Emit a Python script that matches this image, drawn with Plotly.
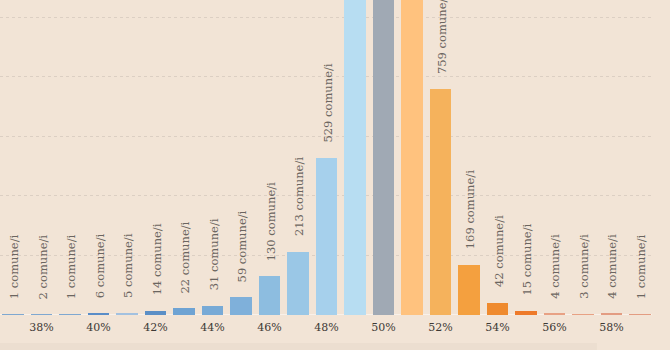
import plotly.graph_objects as go

# Percent buckets (x) and number of comuni per bucket
pct = [37, 38, 39, 40, 41, 42, 43, 44, 45, 46, 47, 48, 49, 50, 51, 52, 53, 54, 55, 56, 57, 58, 59]
comuni = [1, 2, 1, 6, 5, 14, 22, 31, 59, 130, 213, 529, 1600, 2300, 1700, 759, 169, 42, 15, 4, 3, 4, 1]
bar_colors = ["#7FA8D1", "#7FA8D1", "#7FA8D1", "#5A8DC8", "#A3C1E0", "#5B8FC6", "#6FA3D3", "#78AAD6",
              "#7FB0DA", "#8DBDE0", "#9AC7E6", "#A6D0EC", "#B7DDF2", "#A0A9B4", "#FFC27E", "#F5B25C",
              "#F4A03F", "#EF8A2E", "#EE7A2A", "#E8A184", "#E8A184", "#E39C82", "#E39C82"]
tick_vals = [38, 40, 42, 44, 46, 48, 50, 52, 54, 56, 58]
tick_text = ["38%", "40%", "42%", "44%", "46%", "48%", "50%", "52%", "54%", "56%", "58%"]

BG = "#F2E4D6"
Y_MAX = 1058

fig = go.Figure()
fig.add_trace(go.Bar(
    x=pct, y=comuni, width=0.75,
    marker=dict(color=bar_colors, line=dict(width=0)),
    hoverinfo="skip",
))

for x, v in zip(pct, comuni):
    if v < Y_MAX:
        fig.add_annotation(
            x=x, y=v, xref="x", yref="y",
            text=f"{v} comune/i", showarrow=False, textangle=-90,
            xanchor="center", yanchor="bottom", yshift=13, xshift=1,
            font=dict(family="DejaVu Serif", size=11.5, color="#6B6560"),
        )

# baseline
fig.add_shape(type="line", xref="paper", yref="y", x0=0, x1=1, y0=0, y1=0,
              line=dict(color="#FBF6F0", width=1.5), layer="below")
# bottom shadow strip
fig.add_shape(type="rect", xref="paper", yref="paper", x0=0, x1=0.9156, y0=-0.111, y1=-0.089,
              fillcolor="#ECDED0", line=dict(width=0), layer="below")

fig.update_layout(
    width=670, height=350,
    margin=dict(l=0, r=18, t=0, b=35),
    paper_bgcolor=BG, plot_bgcolor=BG,
    showlegend=False,
    bargap=0,
    xaxis=dict(range=[36.544, 59.42], tickvals=tick_vals, ticktext=tick_text,
               showgrid=False, zeroline=False, showline=False, ticks="",
               ticklabelstandoff=4,
               tickfont=dict(family="DejaVu Serif", size=11, color="#3E3935")),
    yaxis=dict(range=[0, Y_MAX], tickvals=[200, 400, 600, 800, 1000], showticklabels=False,
               showgrid=True, gridcolor="#DCCFC3", griddash="dot", gridwidth=1,
               zeroline=False, showline=False),
)

fig.write_html("out.html")
